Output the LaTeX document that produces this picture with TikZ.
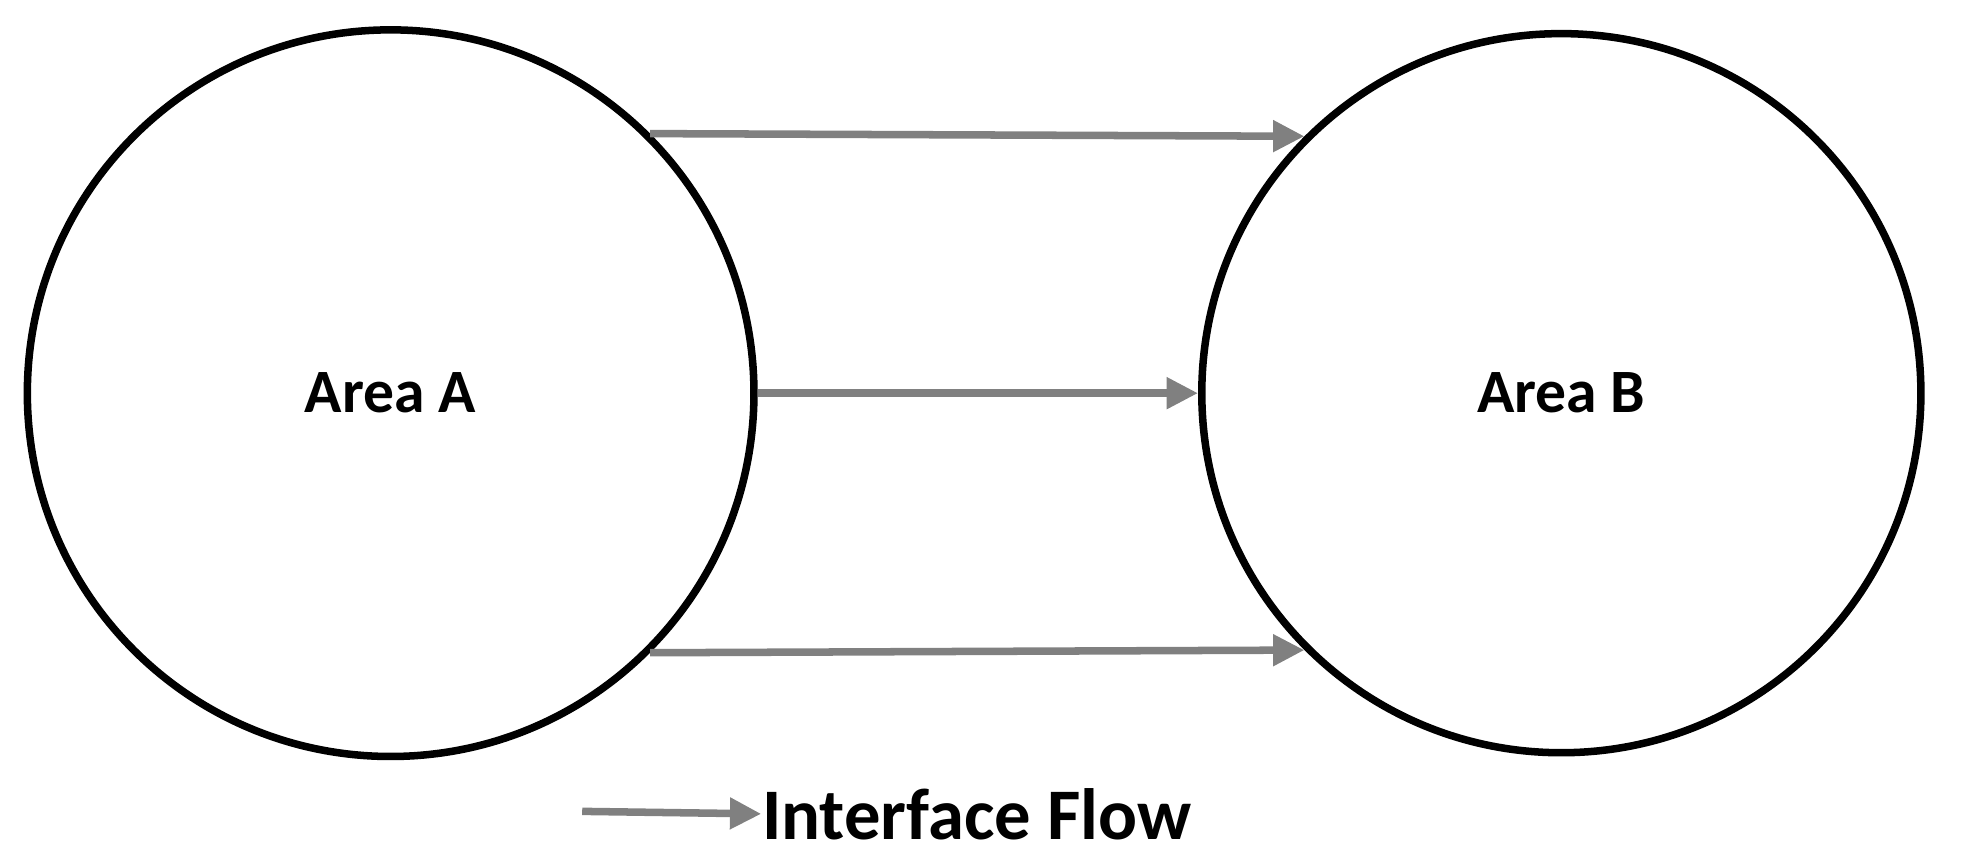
\documentclass[tikz,border=0pt]{standalone}
\usepackage{fontspec}
\setmainfont{Carlito}
\usetikzlibrary{arrows.meta}
\begin{document}
\begin{tikzpicture}[x=0.01cm,y=-0.01cm,
  area/.style={circle,draw=black,line width=0.06cm,minimum size=5.8cm,inner sep=0pt,font=\bfseries\fontsize{14}{16}\selectfont},
  flow/.style={draw={rgb,255:red,128;green,128;blue,128},line width=0.06cm,-{Triangle[length=0.25cm,width=0.24cm]}}]
\useasboundingbox (0,0) rectangle (1567,690);
\node[area] (A) at (312,314) {Area A};
\node[area,minimum size=5.74cm] (B) at (1247,314) {Area B};
\draw[flow] (A.45) -- (B.135);
\draw[flow] (A.east) -- (B.west);
\draw[flow] (A.-45) -- (B.-135);
\coordinate (l1) at (465,648);
\node[anchor=west,inner sep=0pt,font=\bfseries\fontsize{16.5}{18}\selectfont] (leg) at (608,650) {Interface Flow};
\draw[flow] (l1) -- (leg.west);
\end{tikzpicture}
\end{document}
